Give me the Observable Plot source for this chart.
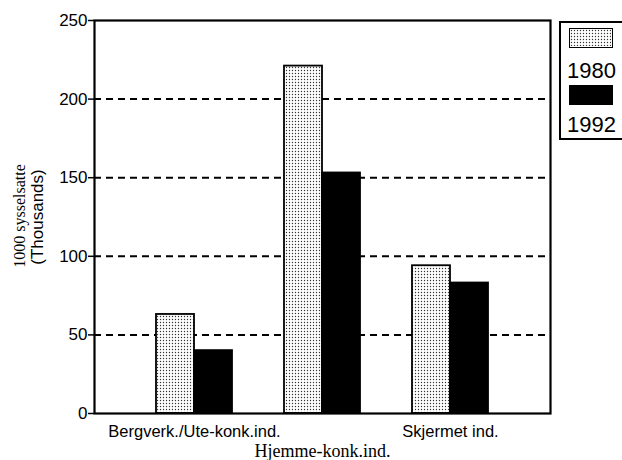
<!DOCTYPE html>
<html>
<head>
<meta charset="utf-8">
<script src="https://cdn.jsdelivr.net/npm/d3@7"></script>
<script src="https://cdn.jsdelivr.net/npm/@observablehq/plot@0.6"></script>
<style>
  html, body { margin: 0; padding: 0; background: #fff; overflow: hidden; }
  #wrap { position: relative; width: 622px; height: 460px; }
  #legend { position: absolute; left: 559px; top: 21px; width: 72px; height: 119px;
            border: 2px solid #000; box-sizing: border-box; font-family: "Liberation Sans", Arial, sans-serif; }
  .sw { position: absolute; left: 8px; width: 44px; height: 20px; border: 1.5px solid #000; box-sizing: border-box; }
  .lt { position: absolute; left: 6px; font-size: 22px; line-height: 22px; color: #000; }
</style>
</head>
<body>
<svg width="0" height="0" style="position:absolute">
  <defs>
    <pattern id="stipple" width="3" height="3" patternUnits="userSpaceOnUse">
      <rect width="3" height="3" fill="#fff"></rect>
      <circle cx="1.5" cy="1.5" r="0.7" fill="#333"></circle>
    </pattern>
  </defs>
</svg>
<div id="wrap"></div>
<script>
const categories = ["Bergverk./Ute-konk.ind.", "Hjemme-konk.ind.", "Skjermet ind."];
const years = ["1980", "1992"];
const values1980 = [63, 221, 94];
const values1992 = [40, 153, 83];
const yTicks = [0, 50, 100, 150, 200, 250];
const gridTicks = [50, 100, 150, 200];

const rows1980 = categories.map((c, i) => ({category: c, year: years[0], value: values1980[i]}));
const rows1992 = categories.map((c, i) => ({category: c, year: years[1], value: values1992[i]}));

const sans = "'Liberation Sans', Arial, sans-serif";
const serif = "'Liberation Serif', 'Times New Roman', serif";

const chart = Plot.plot({
  width: 622,
  height: 460,
  marginTop: 20,
  marginBottom: 47,
  marginLeft: 94,
  marginRight: 72,
  style: {fontFamily: sans, fontSize: "16px", color: "#000", background: "transparent"},
  x: {type: "band", domain: categories, paddingInner: 0.404, paddingOuter: 0.4825, label: null},
  y: {domain: [0, 250], label: null},
  marks: [
    Plot.ruleY(gridTicks, {stroke: "#000", strokeWidth: 2, strokeDasharray: "7,5"}),
    Plot.barY(rows1980, {x: "category", y: "value", fill: "url(#stipple)", stroke: "#000", strokeWidth: 1.8, insetRight: 38}),
    Plot.barY(rows1992, {x: "category", y: "value", fill: "#000", stroke: "#000", strokeWidth: 1.8, insetLeft: 38}),
    Plot.frame({stroke: "#000", strokeWidth: 2.2}),
    Plot.axisY({ticks: yTicks, tickSize: 6, tickPadding: 1, strokeWidth: 1.5, fontSize: 17, label: null}),
    Plot.axisX({ticks: [categories[0], categories[2]], tickSize: 0, tickPadding: 12, fontSize: 16.5, label: null}),
    Plot.axisX({ticks: [categories[1]], tickSize: 0, tickPadding: 31, fontSize: 18, fontFamily: serif, label: null}),
    Plot.text(["1000 sysselsatte"], {frameAnchor: "left", rotate: -90, dx: -75, dy: -1, fontFamily: serif, fontSize: 16, textAnchor: "middle"}),
    Plot.text(["(Thousands)"], {frameAnchor: "left", rotate: -90, dx: -57, fontFamily: sans, fontSize: 17, textAnchor: "middle"})
  ]
});
const wrap = document.getElementById("wrap");
wrap.appendChild(chart);

const legend = document.createElement("div");
legend.id = "legend";
legend.innerHTML = `
  <div class="sw" style="top:5px;"><svg width="41" height="17" style="display:block"><rect width="41" height="17" fill="url(#stipple)"></rect></svg></div>
  <div class="lt" style="top:37px">${years[0]}</div>
  <div class="sw" style="top:62px;background:#000"></div>
  <div class="lt" style="top:91px">${years[1]}</div>`;
wrap.appendChild(legend);
</script>
</body>
</html>
